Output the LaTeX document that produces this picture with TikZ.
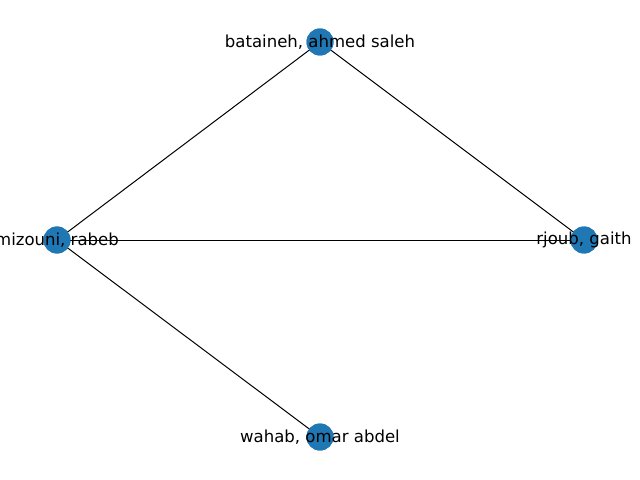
\documentclass[tikz,border=0pt]{standalone}
\usepackage{fontspec}
\setmainfont{DejaVu Sans}
\definecolor{nodeblue}{HTML}{1F77B4}
\begin{document}
\begin{tikzpicture}[x=1bp,y=-1bp,
  vert/.style={circle,fill=nodeblue,draw=none,minimum size=27bp,inner sep=0pt},
  lab/.style={font=\fontsize{16.6}{20}\selectfont,inner sep=0pt,text=black},
  edge/.style={draw=black,line width=1bp}]
\useasboundingbox (0,0) rectangle (640,480);
\node[vert] (b) at (320,42) {};
\node[vert] (m) at (57,240) {};
\node[vert] (r) at (584,240) {};
\node[vert] (w) at (320,437) {};
\begin{scope}[on background layer/.try]
\end{scope}
\draw[edge] (m.center) -- (b.center);
\draw[edge] (b.center) -- (r.center);
\draw[edge] (m.center) -- (r.center);
\draw[edge] (m.center) -- (w.center);
\node[vert] at (b) {};
\node[vert] at (m) {};
\node[vert] at (r) {};
\node[vert] at (w) {};
\node[lab] (lb) at (320,42) {bataineh, ahmed saleh};
\node[lab] (lm) at (57,240) {mizouni, rabeb};
\node[lab] (lr) at (584,240) {rjoub, gaith};
\node[lab] (lw) at (320,437) {wahab, omar abdel};
\end{tikzpicture}
\end{document}
